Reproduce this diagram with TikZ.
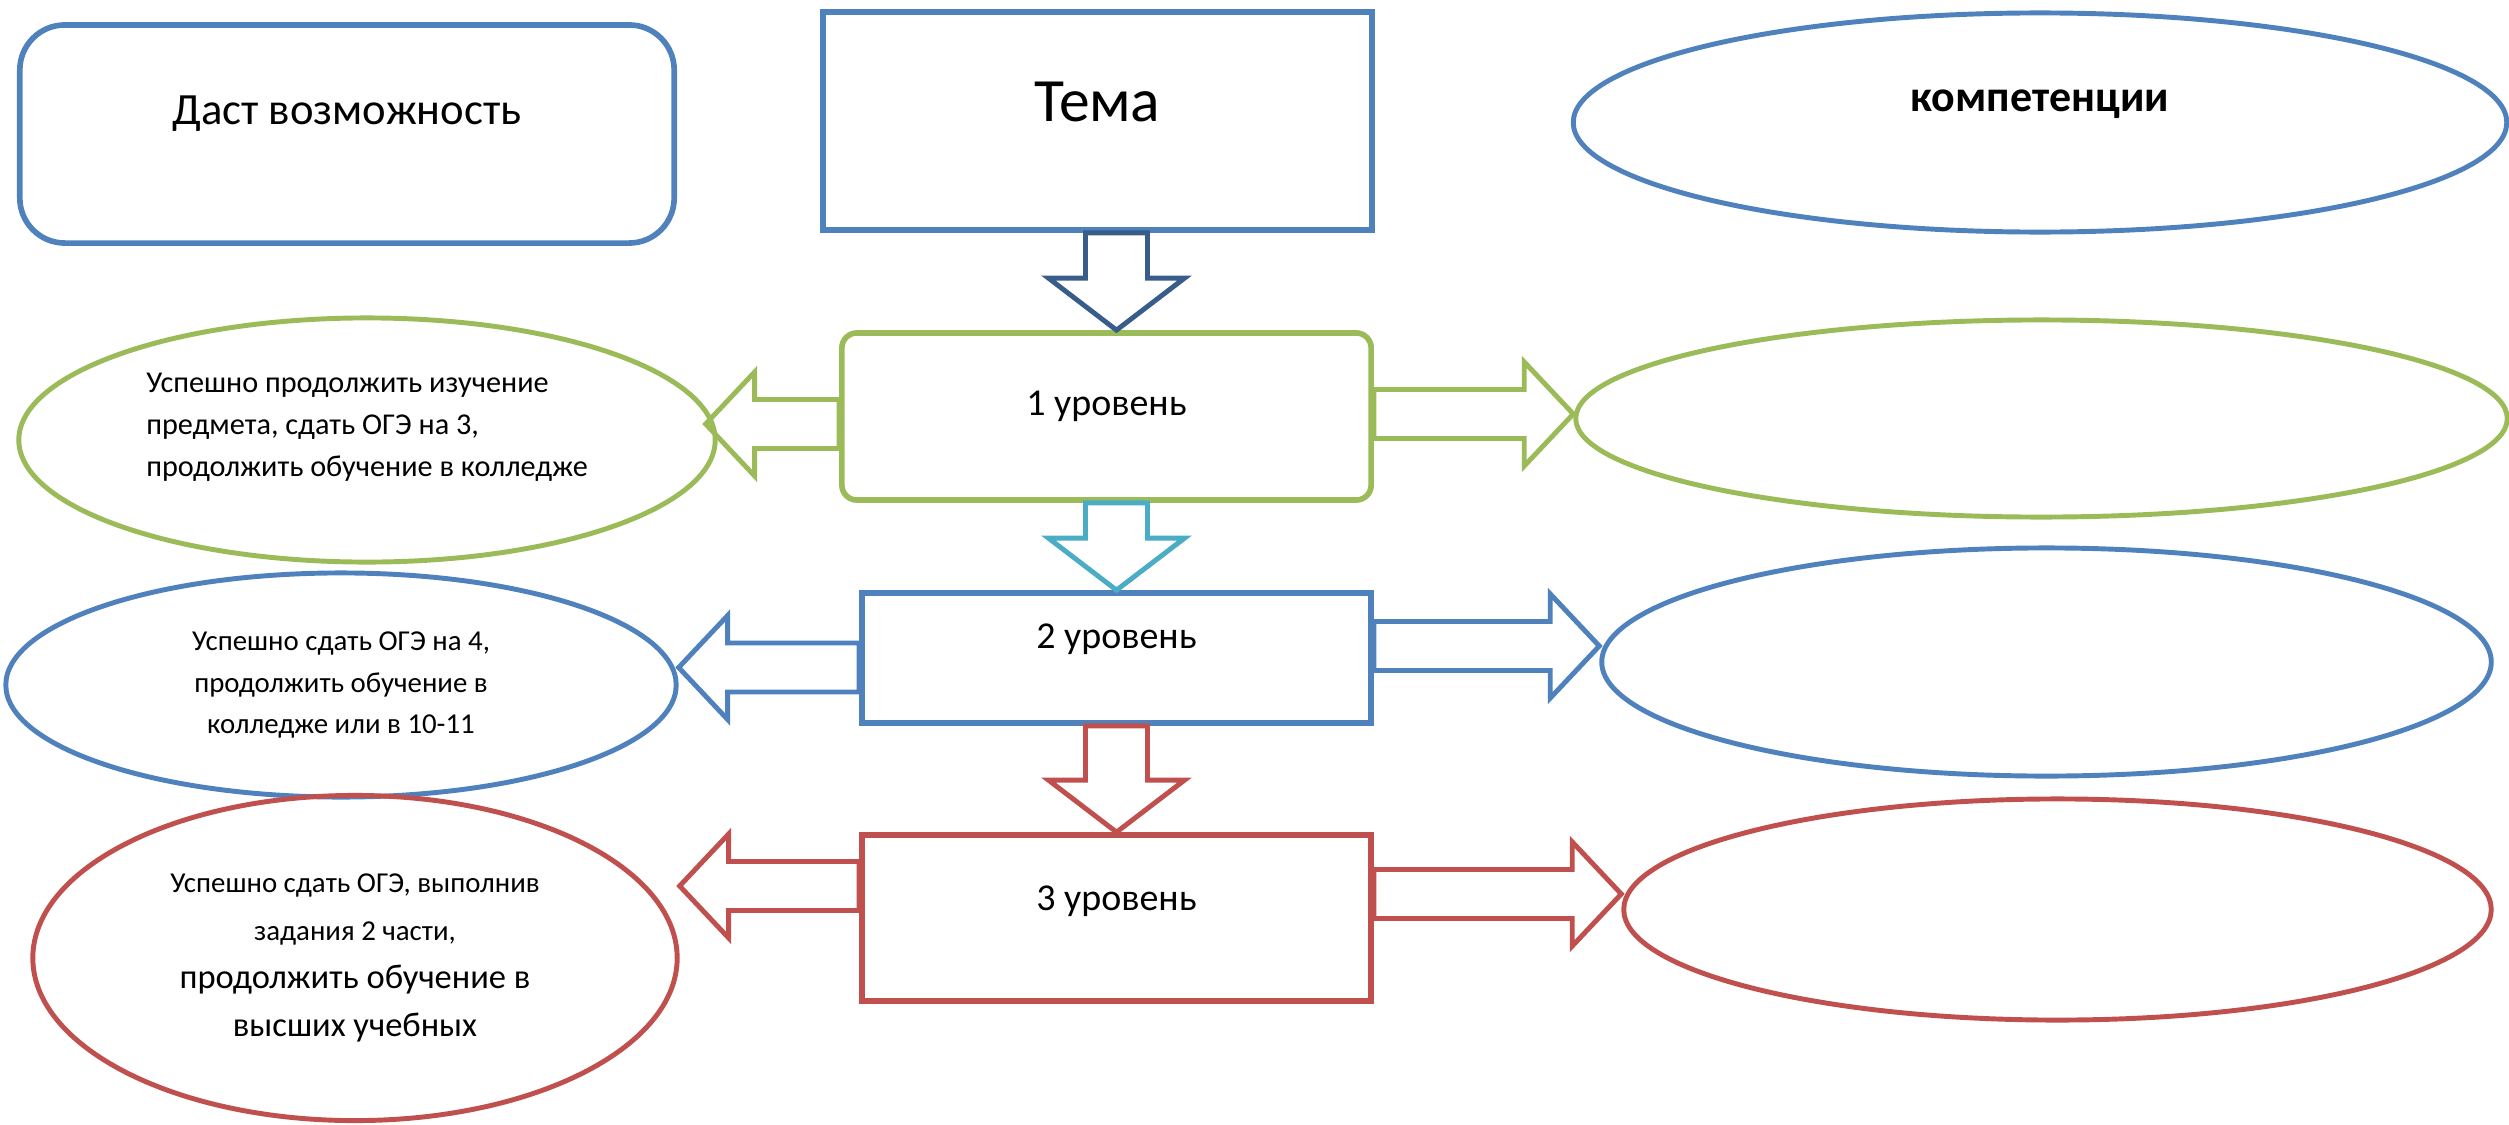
\documentclass[tikz,border=0pt]{standalone}
\usepackage{fontspec}
\setmainfont{Carlito}
\usetikzlibrary{calc,shapes.geometric}

\definecolor{ofblue}{HTML}{4F81BD}
\definecolor{ofgreen}{HTML}{9BBB59}
\definecolor{ofred}{HTML}{C0504D}
\definecolor{ofnavy}{HTML}{385D8A}
\definecolor{ofcyan}{HTML}{4BACC6}

\begin{document}
\begin{tikzpicture}[x=0.01cm,y=-0.01cm,every node/.style={inner sep=1pt},
  box/.style={draw,line width=1.6pt},
  oval/.style={ellipse,draw,line width=1.4pt},
  lvltxt/.style={font=\fontsize{10.8}{12}\selectfont,text height=0.27cm},
  blk/.style n args={3}{line width=1.4pt,to path={
    ($(\tikztostart)!#1!90:(\tikztotarget)$)
    -- ($(\tikztotarget)!#3!(\tikztostart)!#1!90:(\tikztotarget)$)
    -- ($(\tikztotarget)!#3!(\tikztostart)!#2!90:(\tikztotarget)$)
    -- (\tikztotarget)
    -- ($(\tikztotarget)!#3!(\tikztostart)!#2!-90:(\tikztotarget)$)
    -- ($(\tikztotarget)!#3!(\tikztostart)!#1!-90:(\tikztotarget)$)
    -- ($(\tikztostart)!#1!-90:(\tikztotarget)$) -- cycle}},
  vblk/.style={blk={0.31cm}{0.68cm}{0.52cm}},
  hblk/.style={blk={0.245cm}{0.52cm}{0.49cm}}]
  \useasboundingbox (0,0) rectangle (2509,1124);

  % top row
  \node[box,draw=ofblue,rounded corners=0.45cm,minimum width=6.54cm,minimum height=2.18cm,
    font=\fontsize{12.7}{15}\selectfont,text height=0.31cm,text depth=0.5cm] (opp) at (347,134) {Даст возможность};
  \node[box,draw=ofblue,minimum width=5.49cm,minimum height=2.18cm,
    font=\fontsize{17.5}{20}\selectfont,text height=0.43cm,text depth=0.43cm] (tema) at (1097.5,121) {Тема};
  \node[oval,draw=ofblue,minimum width=9.33cm,minimum height=2.19cm,
    font=\bfseries\fontsize{12.5}{15}\selectfont,text height=0.31cm,text depth=0.53cm] (comp) at (2040,122.5) {компетенции};

  % levels
  \node[box,draw=ofgreen,rounded corners=0.15cm,minimum width=5.29cm,minimum height=1.67cm,lvltxt,text depth=0.30cm] (lvl1) at (1106.5,416.5) {1 уровень};
  \node[box,draw=ofblue,minimum width=5.09cm,minimum height=1.30cm,lvltxt,text depth=0.46cm] (lvl2) at (1116.5,658) {2 уровень};
  \node[box,draw=ofred,minimum width=5.09cm,minimum height=1.66cm,lvltxt,text depth=0.42cm] (lvl3) at (1116.5,918) {3 уровень};

  % what each level gives
  \node[oval,draw=ofgreen,minimum width=6.96cm,minimum height=2.44cm,align=left,
    font=\fontsize{8.6}{11.9}\selectfont,text depth=0.3cm] (res1) at (367,440)
    {Успешно продолжить изучение\\предмета, сдать ОГЭ на 3,\\продолжить обучение в колледже};
  \node[oval,draw=ofblue,minimum width=6.70cm,minimum height=2.24cm,align=center,
    font=\fontsize{8.2}{11.7}\selectfont] (res2) at (341,685)
    {Успешно сдать ОГЭ на 4,\\продолжить обучение в\\колледже или в 10-11};
  \node[oval,draw=ofred,minimum width=6.44cm,minimum height=3.25cm,align=center,
    font=\fontsize{8.2}{13.7}\selectfont] (res3) at (355,958)
    {Успешно сдать ОГЭ, выполнив\\задания 2 части,\\\fontsize{9.8}{13.7}\selectfont продолжить обучение в\\\fontsize{9.8}{13.7}\selectfont высших учебных};

  % competences
  \node[oval,draw=ofgreen,minimum width=9.31cm,minimum height=1.97cm] (comp1) at (2041.5,418.5) {};
  \node[oval,draw=ofblue,minimum width=8.89cm,minimum height=2.28cm] (comp2) at (2046.5,662) {};
  \node[oval,draw=ofred,minimum width=8.67cm,minimum height=2.21cm] (comp3) at (2057.5,909.5) {};

  % block arrows
  \draw[ofnavy,vblk] (tema.south -| lvl2.north) to (lvl1.north -| lvl2.north);
  \draw[ofcyan,vblk] (lvl1.south -| lvl2.north) to (lvl2.north);
  \draw[ofred,vblk] (lvl2.south) to (lvl3.north);

  \coordinate (l1) at ([yshift=-0.075cm]lvl1.west);
  \coordinate (l2) at ([yshift=-0.095cm]lvl2.west);
  \coordinate (l3) at ([yshift=0.32cm]lvl3.west);
  \coordinate (r1) at ([yshift=0.025cm]lvl1.east);
  \coordinate (r2) at ([yshift=0.12cm]lvl2.east);
  \coordinate (r3) at ([yshift=0.24cm]lvl3.east);
  \draw[ofgreen,hblk] (l1) to ([xshift=-0.12cm]res1.east |- l1);
  \draw[ofblue,hblk] (l2) to (res2.east |- l2);
  \draw[ofred,hblk] (l3) to (res3.east |- l3);
  \draw[ofgreen,hblk] (r1) to (comp1.west |- r1);
  \draw[ofblue,hblk] (r2) to (comp2.west |- r2);
  \draw[ofred,hblk] (r3) to (comp3.west |- r3);
\end{tikzpicture}
\end{document}
